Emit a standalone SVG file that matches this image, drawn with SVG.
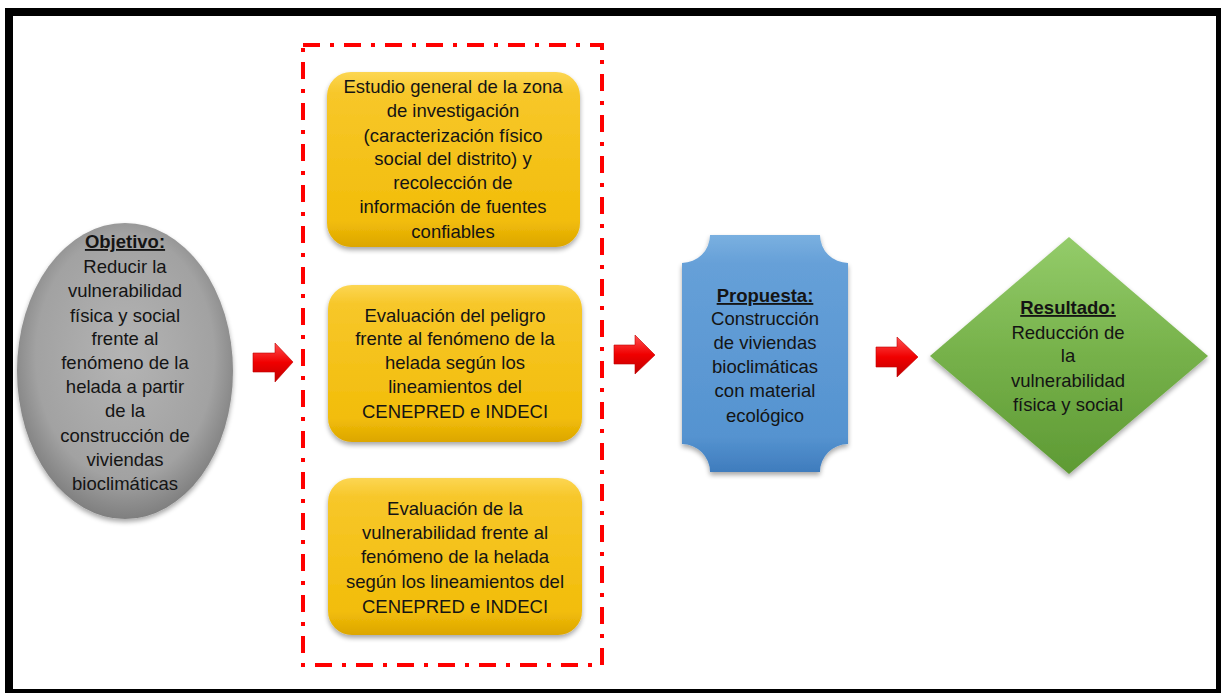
<svg xmlns="http://www.w3.org/2000/svg" width="1221" height="693" viewBox="0 0 1221 693">
<style>
.t{font-family:"Liberation Sans",Arial,sans-serif;font-size:18.5px;fill:#141414;text-anchor:middle}
.h{font-weight:bold;text-decoration:underline}
.arrow{fill:url(#gRed);stroke:#c00000;stroke-width:0.6}
</style>
<defs>
<radialGradient id="gGray" cx="0.5" cy="0.45" r="0.55">
<stop offset="0" stop-color="#b4b4b4"/>
<stop offset="0.75" stop-color="#a2a2a2"/>
<stop offset="1" stop-color="#7f7f7f"/>
</radialGradient>
<linearGradient id="gYel" x1="0" y1="0" x2="0" y2="1">
<stop offset="0" stop-color="#fcd653"/>
<stop offset="0.12" stop-color="#f7c72a"/>
<stop offset="0.85" stop-color="#f2bd0a"/>
<stop offset="1" stop-color="#dca600"/>
</linearGradient>
<linearGradient id="gBlue" x1="0" y1="0" x2="0" y2="1">
<stop offset="0" stop-color="#7ab0e0"/>
<stop offset="0.12" stop-color="#66a0d8"/>
<stop offset="0.85" stop-color="#5593d0"/>
<stop offset="1" stop-color="#3f7cbd"/>
</linearGradient>
<linearGradient id="gGreen" x1="0" y1="0" x2="0" y2="1">
<stop offset="0" stop-color="#94cc6a"/>
<stop offset="0.5" stop-color="#76b14a"/>
<stop offset="1" stop-color="#5e9a34"/>
</linearGradient>
<linearGradient id="gRed" x1="0" y1="0" x2="0" y2="1">
<stop offset="0" stop-color="#ff5050"/>
<stop offset="0.5" stop-color="#f00000"/>
<stop offset="1" stop-color="#c00000"/>
</linearGradient>
<filter id="sh" x="-10%" y="-10%" width="120%" height="125%">
<feGaussianBlur in="SourceAlpha" stdDeviation="2.5"/>
<feOffset dx="0" dy="3" result="b"/>
<feComponentTransfer><feFuncA type="linear" slope="0.35"/></feComponentTransfer>
<feMerge><feMergeNode/><feMergeNode in="SourceGraphic"/></feMerge>
</filter>
</defs>
<rect x="0" y="0" width="1221" height="693" fill="#ffffff"/>
<rect id="frame" x="9" y="12" width="1211" height="681" fill="none" stroke="#000" stroke-width="8"/>
<g id="group-box">
<rect x="303" y="45" width="299" height="620" fill="none" stroke="#ff0000" stroke-width="4" stroke-dasharray="17 10 4 10"/>
</g>
<g id="objetivo">
<ellipse cx="125" cy="371" rx="108" ry="148" fill="url(#gGray)" filter="url(#sh)"/>
<text class="t" x="125" y="248"><tspan class="h">Objetivo:</tspan></text>
<text class="t" x="125" y="273">Reducir la</text>
<text class="t" x="125" y="297">vulnerabilidad</text>
<text class="t" x="125" y="322">física y social</text>
<text class="t" x="125" y="345">frente al</text>
<text class="t" x="125" y="369">fenómeno de la</text>
<text class="t" x="125" y="393">helada a partir</text>
<text class="t" x="125" y="417">de la</text>
<text class="t" x="125" y="442">construcción de</text>
<text class="t" x="125" y="466">viviendas</text>
<text class="t" x="125" y="490">bioclimáticas</text>
</g>
<g id="estudio">
<rect x="327" y="72" width="253" height="175" rx="24" fill="url(#gYel)" filter="url(#sh)"/>
<text class="t" x="453" y="93">Estudio general de la zona</text>
<text class="t" x="453" y="117">de investigación</text>
<text class="t" x="453" y="142">(caracterización físico</text>
<text class="t" x="453" y="165">social del distrito) y</text>
<text class="t" x="453" y="189">recolección de</text>
<text class="t" x="453" y="213">información de fuentes</text>
<text class="t" x="453" y="238">confiables</text>
</g>
<g id="peligro">
<rect x="328" y="285" width="254" height="157" rx="24" fill="url(#gYel)" filter="url(#sh)"/>
<text class="t" x="455" y="322">Evaluación del peligro</text>
<text class="t" x="455" y="345">frente al fenómeno de la</text>
<text class="t" x="455" y="369">helada según los</text>
<text class="t" x="455" y="393">lineamientos del</text>
<text class="t" x="455" y="418">CENEPRED e INDECI</text>
</g>
<g id="vulnerabilidad">
<rect x="328" y="478" width="254" height="157" rx="24" fill="url(#gYel)" filter="url(#sh)"/>
<text class="t" x="455" y="515">Evaluación de la</text>
<text class="t" x="455" y="539">vulnerabilidad frente al</text>
<text class="t" x="455" y="563">fenómeno de la helada</text>
<text class="t" x="455" y="588">según los lineamientos del</text>
<text class="t" x="455" y="613">CENEPRED e INDECI</text>
</g>
<g id="propuesta">
<path d="M710,235 L820,235 A28,28 0 0 0 848,263 L848,444 A28,28 0 0 0 820,472 L710,472 A28,28 0 0 0 682,444 L682,263 A28,28 0 0 0 710,235 Z" fill="url(#gBlue)" filter="url(#sh)"/>
<text class="t" x="765" y="302"><tspan class="h">Propuesta:</tspan></text>
<text class="t" x="765" y="325">Construcción</text>
<text class="t" x="765" y="349">de viviendas</text>
<text class="t" x="765" y="373">bioclimáticas</text>
<text class="t" x="765" y="397">con material</text>
<text class="t" x="765" y="422">ecológico</text>
</g>
<g id="resultado">
<path d="M1069,237 L1208,356 L1069,474 L930,356 Z" fill="url(#gGreen)" filter="url(#sh)"/>
<text class="t" x="1068" y="314"><tspan class="h">Resultado:</tspan></text>
<text class="t" x="1068" y="339">Reducción de</text>
<text class="t" x="1068" y="362">la</text>
<text class="t" x="1068" y="387">vulnerabilidad</text>
<text class="t" x="1068" y="411">física y social</text>
</g>
<g id="connectors">
<path class="arrow" d="M253,353 L275,353 L275,343 L293,362 L275,382 L275,372 L253,372 Z"/>
<path class="arrow" d="M614,345 L635,345 L635,335 L655,355 L635,374 L635,364 L614,364 Z"/>
<path class="arrow" d="M876,347 L897,347 L897,337 L918,357 L897,377 L897,367 L876,367 Z"/>
</g>
</svg>
